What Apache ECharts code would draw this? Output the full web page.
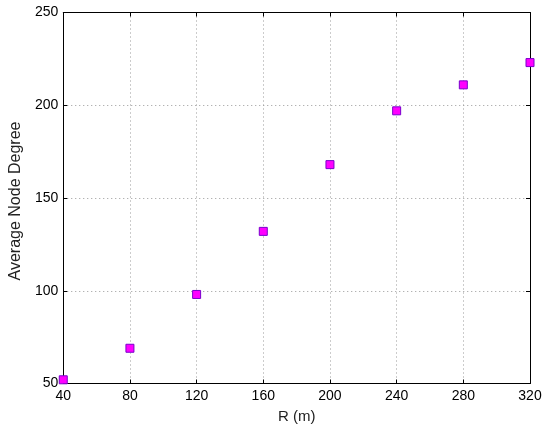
<!DOCTYPE html>
<html><head><meta charset="utf-8">
<script src="https://cdn.jsdelivr.net/npm/echarts@6/dist/echarts.min.js"></script>
<style>html,body{margin:0;padding:0;background:#fff}#c{width:550px;height:432px}</style>
</head><body><div id="c"></div>
<script>
const radius = [40, 80, 120, 160, 200, 240, 280, 320];
const avgDegree = [52, 69, 98, 132, 168, 197, 211, 223];
const xTitle = 'R (m)';
const yTitle = 'Average Node Degree';

const chart = echarts.init(document.getElementById('c'), null, {renderer: 'canvas'});
const font = 'Liberation Sans, Arial, Helvetica, sans-serif';
const lineStyle = {color: '#000', width: 1};
const gridLine = {show: true, lineStyle: {color: '#999', type: [1, 3], width: 1}};
chart.setOption({
  animation: false,
  backgroundColor: '#fff',
  grid: {left: 59, right: 20, top: 12.5, bottom: 48.5, containLabel: false},
  xAxis: [{
    type: 'value', min: 40, max: 320, interval: 40,
    name: xTitle, nameLocation: 'middle', nameGap: 26,
    nameTextStyle: {fontFamily: font, fontSize: 15, color: '#222'},
    axisLine: {show: true, onZero: false, lineStyle: lineStyle},
    axisTick: {show: true, inside: true, length: 4, lineStyle: lineStyle},
    axisLabel: {fontFamily: font, fontSize: 14, color: '#000', margin: 6},
    splitLine: gridLine
  }, {
    type: 'value', min: 40, max: 320, interval: 40, position: 'top',
    axisLine: {show: true, onZero: false, lineStyle: lineStyle},
    axisTick: {show: true, inside: true, length: 4, lineStyle: lineStyle},
    axisLabel: {show: false}, splitLine: {show: false}
  }],
  yAxis: [{
    type: 'value', min: 50, max: 250, interval: 50,
    name: yTitle, nameLocation: 'middle', nameGap: 35,
    nameTextStyle: {fontFamily: font, fontSize: 16, color: '#222', padding: [0, 6, 0, 0]},
    axisLine: {show: true, onZero: false, lineStyle: lineStyle},
    axisTick: {show: true, inside: true, length: 4, lineStyle: lineStyle},
    axisLabel: {fontFamily: font, fontSize: 14, color: '#000', margin: 5},
    splitLine: gridLine
  }, {
    type: 'value', min: 50, max: 250, interval: 50, position: 'right',
    axisLine: {show: true, onZero: false, lineStyle: lineStyle},
    axisTick: {show: true, inside: true, length: 4, lineStyle: lineStyle},
    axisLabel: {show: false}, splitLine: {show: false}
  }],
  series: [{
    type: 'scatter',
    data: radius.map((r, i) => [r, avgDegree[i]]),
    symbol: 'rect', symbolSize: 8,
    itemStyle: {color: '#ff00ff', borderColor: '#7a00cc', borderWidth: 1, opacity: 1}
  }]
});
</script></body></html>
